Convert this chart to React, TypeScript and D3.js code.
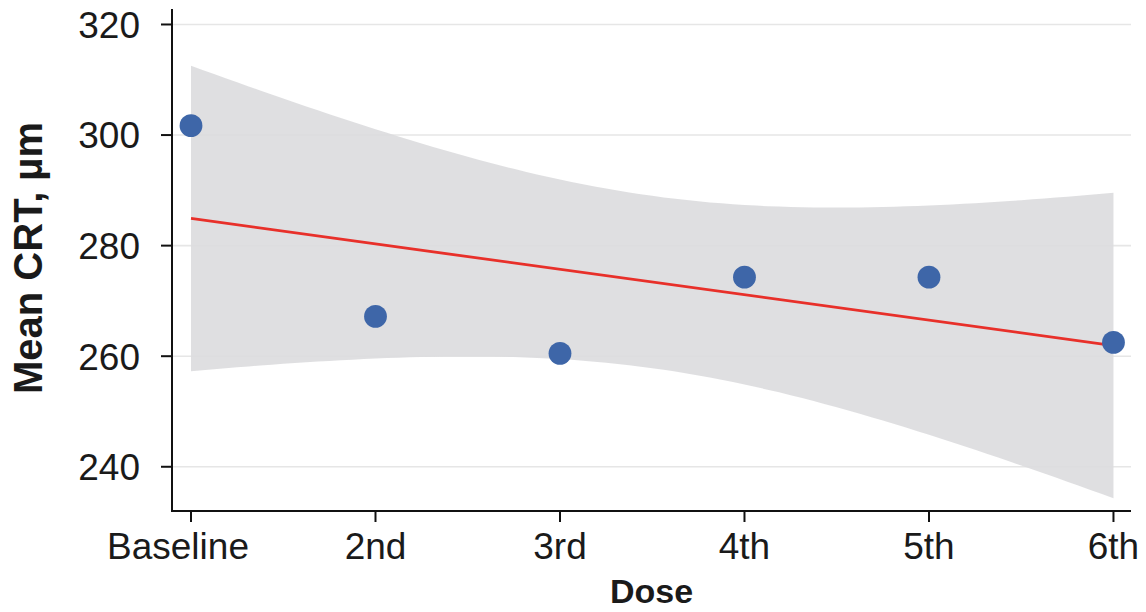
// Mean CRT by dose, with linear fit and 95% confidence band
import React from "react";
import * as d3 from "d3";

const doses = ["Baseline", "2nd", "3rd", "4th", "5th", "6th"];
const meanCRT = [301.7, 267.2, 260.5, 274.3, 274.3, 262.5];
const yTicks = [240, 260, 280, 300, 320];

const width = 1146;
const height = 612;
const margin = { left: 172, right: 15, top: 9, bottom: 101 };
const T_975_DF4 = 2.776; // t quantile for 95% CI, n - 2 = 4

// ordinary least squares with confidence band for the mean
function fitLinear(xs: number[], ys: number[]) {
  const n = xs.length;
  const xBar = d3.mean(xs)!;
  const yBar = d3.mean(ys)!;
  let sxy = 0;
  let sxx = 0;
  for (let i = 0; i < n; i++) {
    sxy += (xs[i] - xBar) * (ys[i] - yBar);
    sxx += (xs[i] - xBar) * (xs[i] - xBar);
  }
  const m = sxy / sxx;
  const b = yBar - m * xBar;
  let sse = 0;
  for (let i = 0; i < n; i++) sse += (ys[i] - (m * xs[i] + b)) ** 2;
  const s = Math.sqrt(sse / (n - 2));
  const predict = (x: number) => m * x + b;
  const halfWidth = (x: number) =>
    T_975_DF4 * s * Math.sqrt(1 / n + (x - xBar) ** 2 / sxx);
  return { predict, halfWidth };
}

export default function App() {
  const xs = doses.map((_, i) => i);
  const fit = fitLinear(xs, meanCRT);

  const x = d3
    .scaleLinear()
    .domain([-0.103, 5.095])
    .range([margin.left, width - margin.right]);
  const y = d3
    .scaleLinear()
    .domain([232, 322.8])
    .range([height - margin.bottom, margin.top]);

  const grid = d3.range(0, 5.0001, 5 / 80);
  const band = d3
    .area<number>()
    .x((d) => x(d))
    .y0((d) => y(fit.predict(d) - fit.halfWidth(d)))
    .y1((d) => y(fit.predict(d) + fit.halfWidth(d)))(grid);
  const line = d3
    .line<number>()
    .x((d) => x(d))
    .y((d) => y(fit.predict(d)))([0, 5]);

  const x0 = margin.left;
  const x1 = width - margin.right;
  const yBottom = height - margin.bottom;
  const font = "Arial, 'Liberation Sans', Helvetica, sans-serif";

  return (
    <svg
      width={width}
      height={height}
      style={{ position: "absolute", left: 0, top: 0, background: "#fff" }}
      fontFamily={font}
    >
      {/* gridlines */}
      {yTicks.map((t) => (
        <line key={t} x1={x0} x2={x1} y1={y(t)} y2={y(t)} stroke="#e6e6e6" strokeWidth={1.6} />
      ))}

      {/* confidence band and fit */}
      <path d={band ?? ""} fill="#dcdbde" fillOpacity={0.9} />
      <path d={line ?? ""} fill="none" stroke="#e8302a" strokeWidth={2.8} />

      {/* points */}
      {meanCRT.map((v, i) => (
        <circle key={doses[i]} cx={x(i)} cy={y(v)} r={11.4} fill="#3e66a8" />
      ))}

      {/* axes */}
      <line x1={x0} x2={x0} y1={margin.top} y2={yBottom + 1} stroke="#111" strokeWidth={2} />
      <line x1={x0 - 1} x2={x1} y1={yBottom} y2={yBottom} stroke="#111" strokeWidth={2} />
      {yTicks.map((t) => (
        <g key={t}>
          <line x1={x0 - 11} x2={x0} y1={y(t)} y2={y(t)} stroke="#111" strokeWidth={2} />
          <text x={x0 - 32} y={y(t)} dy="0.36em" textAnchor="end" fontSize={37} fill="#1a1a1a">
            {t}
          </text>
        </g>
      ))}
      {doses.map((d, i) => (
        <g key={d}>
          <line x1={x(i)} x2={x(i)} y1={yBottom} y2={yBottom + 11} stroke="#111" strokeWidth={2} />
          <text
            x={x(i) - (i === 0 ? 13 : 0)}
            y={yBottom + 48}
            textAnchor="middle"
            fontSize={37}
            fill="#1a1a1a"
          >
            {d}
          </text>
        </g>
      ))}

      {/* axis titles */}
      <text x={(x0 + x1) / 2} y={603} textAnchor="middle" fontSize={34} fontWeight="bold" fill="#1a1a1a">
        Dose
      </text>
      <text
        transform={`translate(42, 258) rotate(-90)`}
        textAnchor="middle"
        fontSize={40}
        fontWeight="bold"
        fill="#1a1a1a"
      >
        Mean CRT, µm
      </text>
    </svg>
  );
}
